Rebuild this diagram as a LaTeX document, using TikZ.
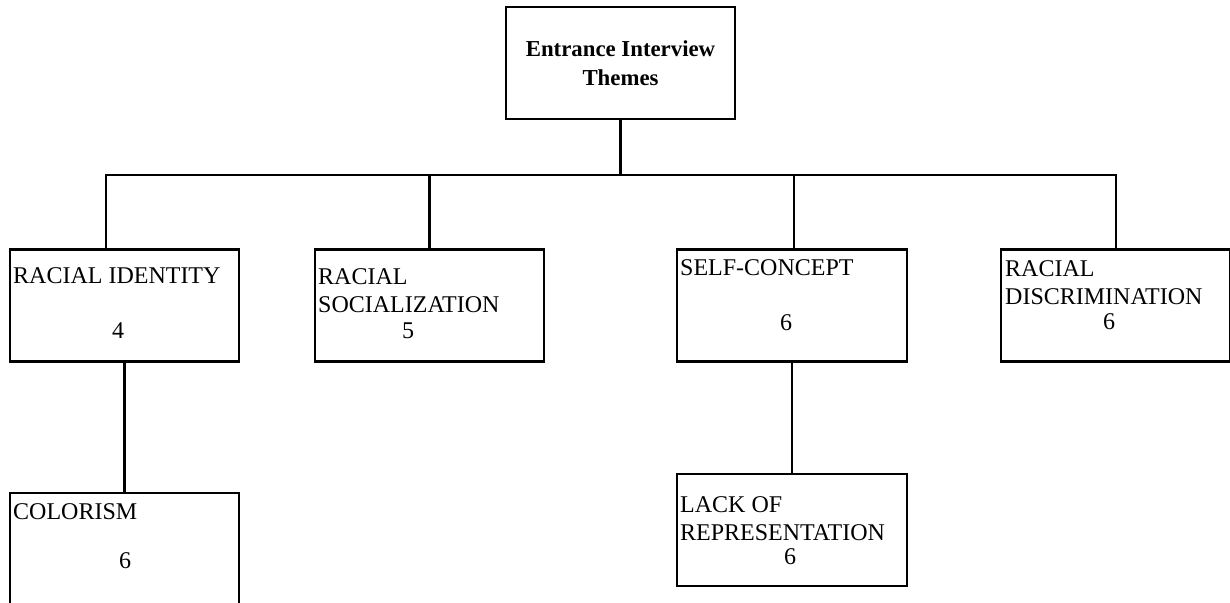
\documentclass[tikz,border=0pt]{standalone}
\usepackage{fontspec}
\setmainfont{Liberation Serif}
\usetikzlibrary{positioning}

\begin{document}
\begin{tikzpicture}[x=0.5pt,y=-0.5pt,line width=1.2pt,
			font=\fontsize{12}{14}\selectfont,
			theme box/.style={draw,rectangle,minimum width=114.5pt,
				minimum height=56pt,inner sep=0pt},
			label text/.style={anchor=north west,align=left,inner sep=0pt},
			count text/.style={anchor=base,inner sep=0pt}]
			
			\clip (0,0) rectangle (1230,603);
			
			\node[theme box,align=center,
				font=\fontsize{11.4}{14.5}\selectfont\bfseries] (top) at (620.5,63) {Entrance Interview\\Themes};
			
			\node[theme box] (identity) at (124.5,305.5) {};
			\node[theme box] (social) at (429.5,305.5) {};
			\node[theme box,minimum width=115pt] (selfc) at (792,305.5) {};
			\node[theme box] (discrim) at (1115.5,305.5) {};
			\node[theme box] (colorism) at (124.5,549) {};
			\node[theme box,minimum width=115pt] (lackrep) at (792,530) {};
			
			\node[label text] (identity-t) at (12,266) {RACIAL IDENTITY};
			\node[count text] (identity-n) at (118,339) {4};
			\node[label text] (social-t) at (317,267) {RACIAL\\SOCIALIZATION};
			\node[count text] (social-n) at (408,339) {5};
			\node[label text] (selfc-t) at (679,258) {SELF-CONCEPT};
			\node[count text] (selfc-n) at (786,331) {6};
			\node[label text] (discrim-t) at (1004,259) {RACIAL\\DISCRIMINATION};
			\node[count text] (discrim-n) at (1109,330) {6};
			\node[label text] (colorism-t) at (12,502) {COLORISM};
			\node[count text] (colorism-n) at (125,568) {6};
			\node[label text] (lackrep-t) at (679,495) {LACK OF\\REPRESENTATION};
			\node[count text] (lackrep-n) at (790,564) {6};
			
			\coordinate (busL) at (106,175);
			\coordinate (busR) at (1116,175);
			
			\draw (top.south) -- (top.south |- busL);
			\draw (busL |- identity.north) -- (busL) -- (busR) -- (busR |- discrim.north);
			\draw (social.north) -- (social.north |- busL);
			\draw ([xshift=1pt]selfc.north) -- ([xshift=1pt]selfc.north |- busL);
			\draw (identity) -- (colorism);
			\draw (selfc) -- (lackrep);
			
		\end{tikzpicture}
\end{document}
